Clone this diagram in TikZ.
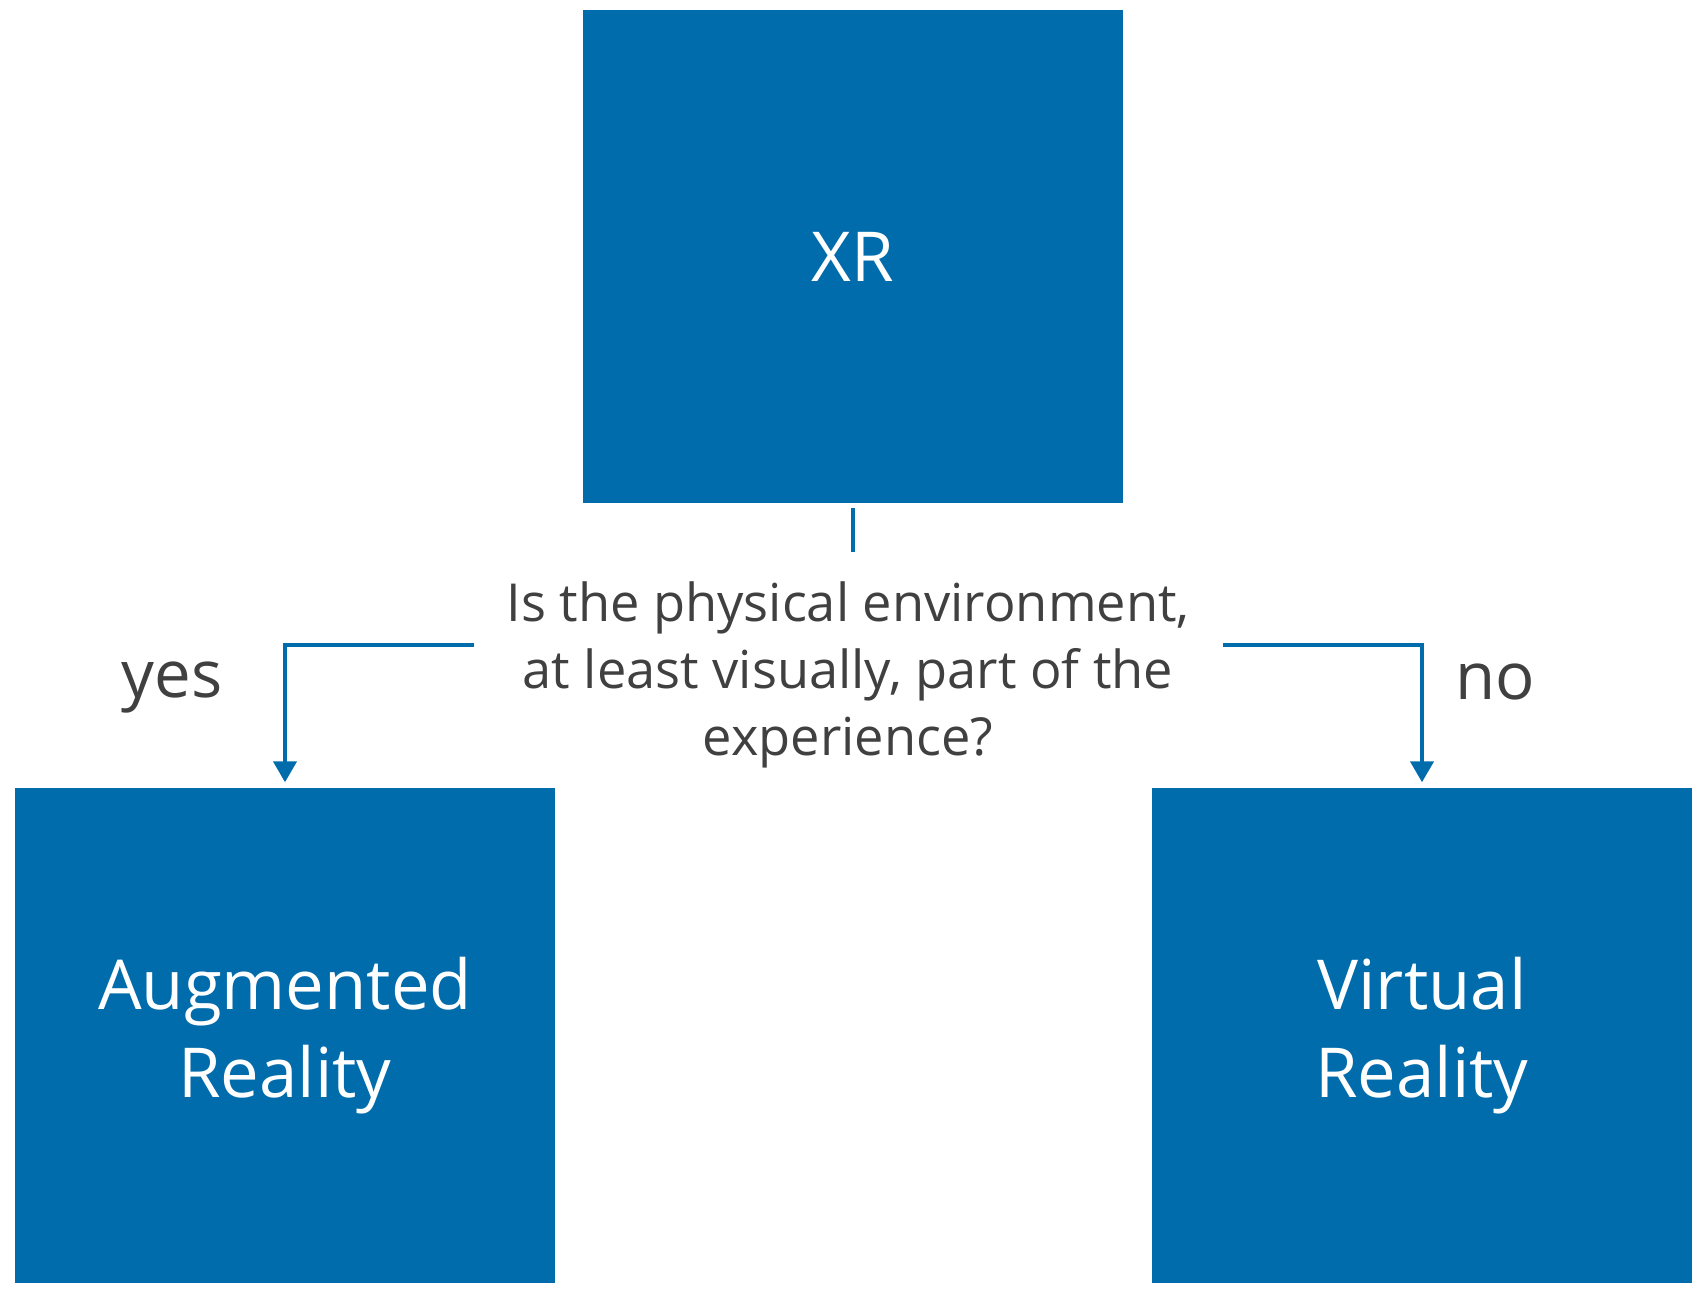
\documentclass[tikz,border=0pt]{standalone}
\usepackage{fontspec}
\setmainfont{Open Sans}
\usetikzlibrary{arrows.meta}
\definecolor{xrblue}{RGB}{0,108,172}
\definecolor{txtgray}{RGB}{64,64,64}
\tikzset{
  box/.style={fill=xrblue, text=white, minimum width=5.4cm, minimum height=4.95cm, align=center, font=\fontsize{19.6}{25}\selectfont},
  lbl/.style={text=txtgray, font=\fontsize{18.6}{22}\selectfont},
  link/.style={draw=xrblue, line width=1.2pt},
}
\begin{document}
\begin{tikzpicture}
        \useasboundingbox (0,0) rectangle (17.08,-12.94);
        \node[box, minimum height=4.93cm] (XR) at (8.53,-2.565) {XR};
        \node[box] (AR) at (2.85,-10.355) {Augmented\\Reality};
        \node[box] (VR) at (14.22,-10.355) {Virtual\\Reality};
        \node[text=txtgray, align=center, font=\fontsize{14.9}{19}\selectfont] (Q) at (8.48,-6.75) {Is the physical environment,\\at least visually, part of the\\experience?};
        \node[lbl, anchor=base] (Y) at (1.72,-6.98) {yes};
        \node[lbl, anchor=base] (N) at (14.95,-7.00) {no};
        \coordinate (T) at ([yshift=-0.48cm]XR.south);
        \coordinate (QL) at (4.74,-6.45);
        \coordinate (QR) at (12.23,-6.45);
        
        % Edge
        \draw[link] ([yshift=-0.04cm]XR.south) -- (T);
        \draw[link, -{Triangle[width=0.23cm, length=0.21cm]}] (QL) -| ([yshift=0.05cm]AR.north);
        \draw[link, -{Triangle[width=0.23cm, length=0.21cm]}] (QR) -| ([yshift=0.05cm]VR.north);
        \end{tikzpicture}
\end{document}
